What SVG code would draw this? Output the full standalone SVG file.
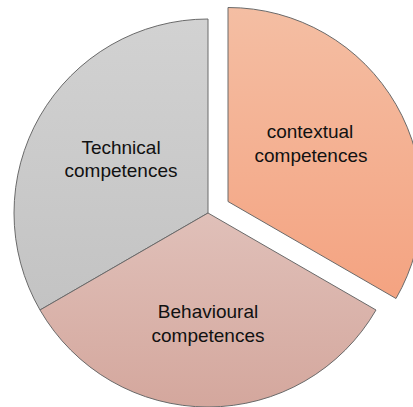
<svg xmlns="http://www.w3.org/2000/svg" width="413" height="407" viewBox="0 0 413 407">
<defs>
<linearGradient id="gT" x1="0" y1="0" x2="0" y2="1"><stop offset="0" stop-color="#d2d2d2"/><stop offset="1" stop-color="#c3c3c3"/></linearGradient>
<linearGradient id="gB" x1="0" y1="0" x2="0" y2="1"><stop offset="0" stop-color="#e0c0b9"/><stop offset="1" stop-color="#d4a79d"/></linearGradient>
<linearGradient id="gC" x1="0" y1="0" x2="0" y2="1"><stop offset="0" stop-color="#f4bea3"/><stop offset="1" stop-color="#f4a381"/></linearGradient>
<style>
.s{stroke:#6a6a6a;stroke-width:1;stroke-linejoin:round}
.t{font-family:"Liberation Sans",Arial,sans-serif;font-size:19px;fill:#111;text-anchor:middle}
</style>
</defs>
<rect width="413" height="407" fill="#fff"/>
<g id="technical">
<path class="s" fill="url(#gT)" d="M208,213 L208,19 A194,194 0 0 0 40,310 Z"/>
<text class="t" x="121" y="154">Technical</text>
<text class="t" x="121" y="177">competences</text>
</g>
<g id="behavioural">
<path class="s" fill="url(#gB)" d="M208,213 L40,310 A194,194 0 0 0 376,310 Z"/>
<text class="t" x="208" y="318">Behavioural</text>
<text class="t" x="208" y="342">competences</text>
</g>
<g id="contextual">
<path class="s" fill="url(#gC)" d="M228,201.5 L228,7.5 A194,194 0 0 1 396,298.5 Z"/>
<text class="t" x="310" y="138">contextual</text>
<text class="t" x="311" y="162">competences</text>
</g>
<g id="connectors"/>
</svg>
